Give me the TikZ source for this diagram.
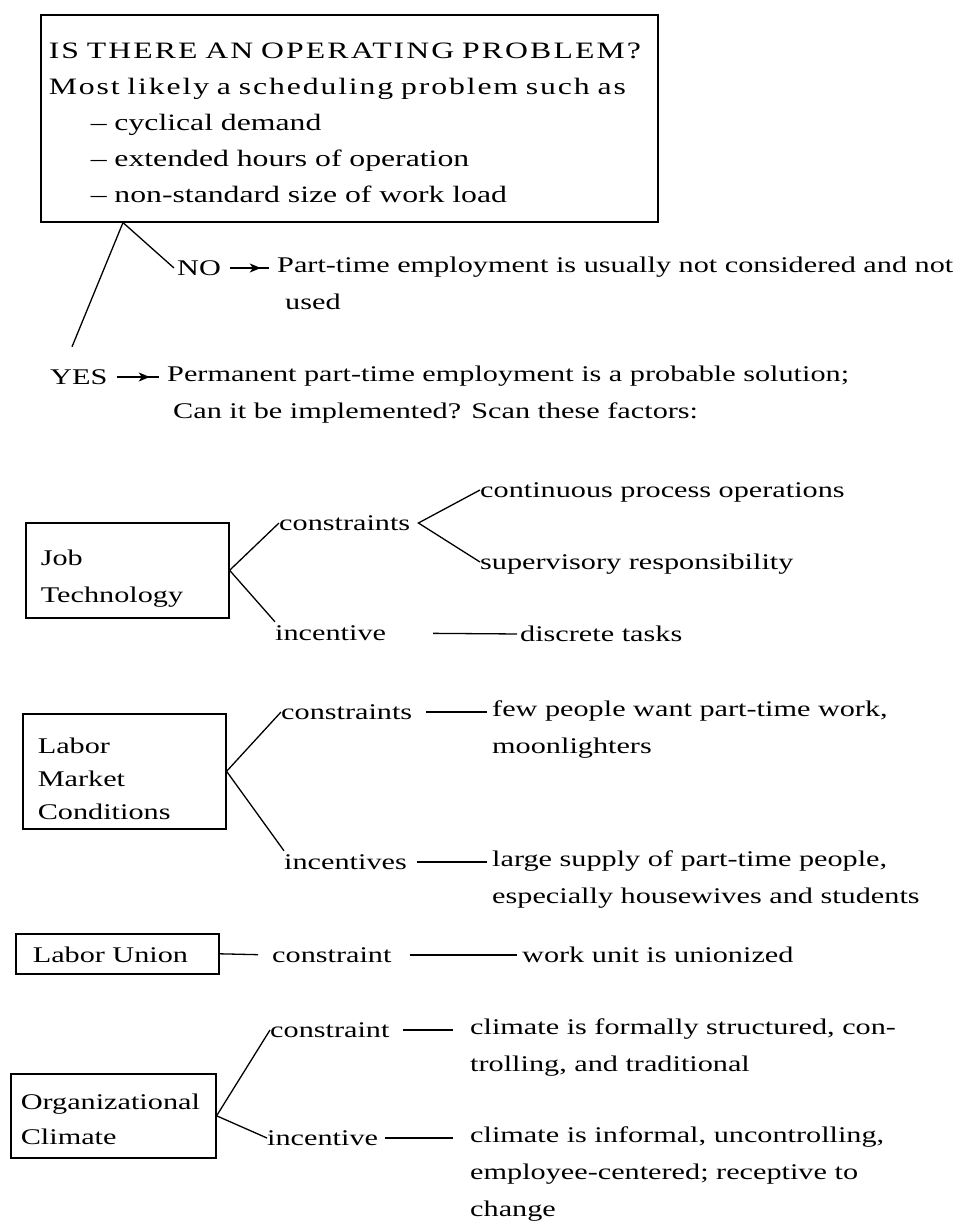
\documentclass[tikz,border=0pt]{standalone}
\usepackage{fontspec}
\setmainfont{Liberation Serif}[FakeStretch=1.35]
\usetikzlibrary{arrows.meta,decorations.markings}

\tikzset{
  probbox/.style={draw, line width=1.6pt, align=left, anchor=north west,
    inner xsep=8pt, inner ysep=0pt, text width=601pt,
    font=\fontsize{23.5}{36}\selectfont},
  factorbox/.style={draw, line width=1.6pt, align=left, anchor=north west,
    inner ysep=0pt},
  lbl/.style={inner sep=0pt, anchor=west, text height=18pt, text depth=4pt},
  para/.style={inner sep=0pt, anchor=north west, align=left,
    execute at begin node=\rule{0pt}{18pt}},
  branch/.style={line width=1.3pt},
  tie/.style={line width=1.3pt, shorten <=14pt, shorten >=5pt},
  yesno/.style={line width=1.3pt, shorten <=9pt, shorten >=8pt,
    postaction=decorate, decoration={markings,
      mark=at position 0.71 with {\arrow{Stealth[length=11pt,width=9pt,inset=3pt]}}}}
}

\begin{document}
\begin{tikzpicture}[x=1pt, y=-1pt, font=\fontsize{22.4}{37}\selectfont]
  \useasboundingbox (0,0) rectangle (962,1228);

  % ---- operating problem (top box) ----
  \node[probbox] (prob) at (40,14)
    {{\addfontfeatures{LetterSpace=9}\rule{0pt}{44pt}IS THERE AN OPERATING PROBLEM?}\\
     {\addfontfeatures{LetterSpace=8}Most likely a scheduling problem such as}\\
     \hspace*{42pt}– cyclical demand\\
     \hspace*{42pt}– extended hours of operation\\
     \hspace*{42pt}– non-standard size of work load\rule[-19pt]{0pt}{19pt}};
  \coordinate (probfoot) at ([xshift=83pt]prob.south west);

  % ---- NO / YES ----
  \node[lbl] (no) at (177,268) {NO};
  \node[para] (notxt) at (277,257)
    {Part-time employment is usually not considered and not\\\hspace*{8pt}used};
  \node[lbl] (yes) at (50,377) {YES};
  \node[para] (yestxt) at (167,366)
    {Permanent part-time employment is a probable solution;\\\hspace*{6pt}Can it be implemented? Scan these factors:};

  \draw[branch] (probfoot) -- ([xshift=-3pt]no.west);
  \draw[branch] (probfoot) -- ([xshift=22pt,yshift=19pt]yes.north west);
  \draw[yesno] (no.east) -- ([yshift=-11pt]notxt.north west);
  \draw[yesno] (yes.east) -- ([yshift=-11pt]yestxt.north west);

  % ---- Job Technology ----
  \node[factorbox, text width=173pt, inner xsep=15pt] (jobtech) at (25,522)
    {\rule{0pt}{43pt}Job\\Technology\rule[-15pt]{0pt}{15pt}};
  \node[lbl] (jobcon) at (279,523) {constraints};
  \node[lbl] (jobinc) at (275,633) {incentive};
  \node[lbl] (contproc) at (480,490) {continuous process operations};
  \node[lbl] (superv) at (480,562) {supervisory responsibility};
  \node[lbl] (discrete) at (520,634) {discrete tasks};
  \coordinate (jobfork) at ([xshift=8pt]jobcon.east);

  \draw[branch] (jobtech.east) -- (jobcon.west);
  \draw[branch] (jobtech.east) -- (jobinc.north west);
  \draw[branch] (contproc.west) -- (jobfork) -- (superv.west);
  \draw[tie, shorten <=47pt, shorten >=3pt] (jobinc.east) -- (discrete.west);

  % ---- Labor Market Conditions ----
  \node[factorbox, text width=173pt, inner xsep=15pt, font=\fontsize{22.4}{33}\selectfont]
    (labmkt) at (22,713) {\rule{0pt}{40pt}Labor\\Market\\Conditions\rule[-9pt]{0pt}{9pt}};
  \node[lbl] (lmcon) at (281,712) {constraints};
  \node[para] (lmcontxt) at (492,701) {few people want part-time work,\\moonlighters};
  \node[lbl] (lminc) at (284,862) {incentives};
  \node[para] (lminctxt) at (492,851)
    {large supply of part-time people,\\especially housewives and students};

  \draw[branch] (labmkt.east) -- (lmcon.west);
  \draw[branch] (labmkt.east) -- (lminc.north west);
  \draw[tie] (lmcon.east) -- ([yshift=-11pt]lmcontxt.north west);
  \draw[tie, shorten <=10pt] (lminc.east) -- ([yshift=-11pt]lminctxt.north west);

  % ---- Labor Union ----
  \node[factorbox, text width=169pt, inner xsep=17pt] (labuni) at (15,933)
    {\rule{0pt}{29pt}Labor Union\rule[-11pt]{0pt}{11pt}};
  \node[lbl] (lucon) at (272,955) {constraint};
  \node[lbl] (unionized) at (522,955) {work unit is unionized};

  \draw[branch, shorten >=14pt] (labuni.east) -- (lucon.west);
  \draw[tie, shorten <=18pt] (lucon.east) -- (unionized.west);

  % ---- Organizational Climate ----
  \node[factorbox, text width=185pt, inner xsep=10pt, font=\fontsize{22.4}{35}\selectfont]
    (orgcli) at (10,1073) {\rule{0pt}{36pt}Organizational\\Climate\rule[-13pt]{0pt}{13pt}};
  \node[lbl] (occon) at (270,1030) {constraint};
  \node[para] (occontxt) at (470,1019)
    {climate is formally structured, con-\\trolling, and traditional};
  \node[lbl] (ocinc) at (267,1138) {incentive};
  \node[para] (ocinctxt) at (470,1127)
    {climate is informal, uncontrolling,\\employee-centered; receptive to\\change};

  \draw[branch] (orgcli.east) -- (occon.west);
  \draw[branch] (orgcli.east) -- (ocinc.west);
  \draw[tie, shorten <=13pt, shorten >=17pt] (occon.east) -- ([yshift=-11pt]occontxt.north west);
  \draw[tie, shorten <=7pt, shorten >=17pt] (ocinc.east) -- ([yshift=-11pt]ocinctxt.north west);
\end{tikzpicture}
\end{document}
